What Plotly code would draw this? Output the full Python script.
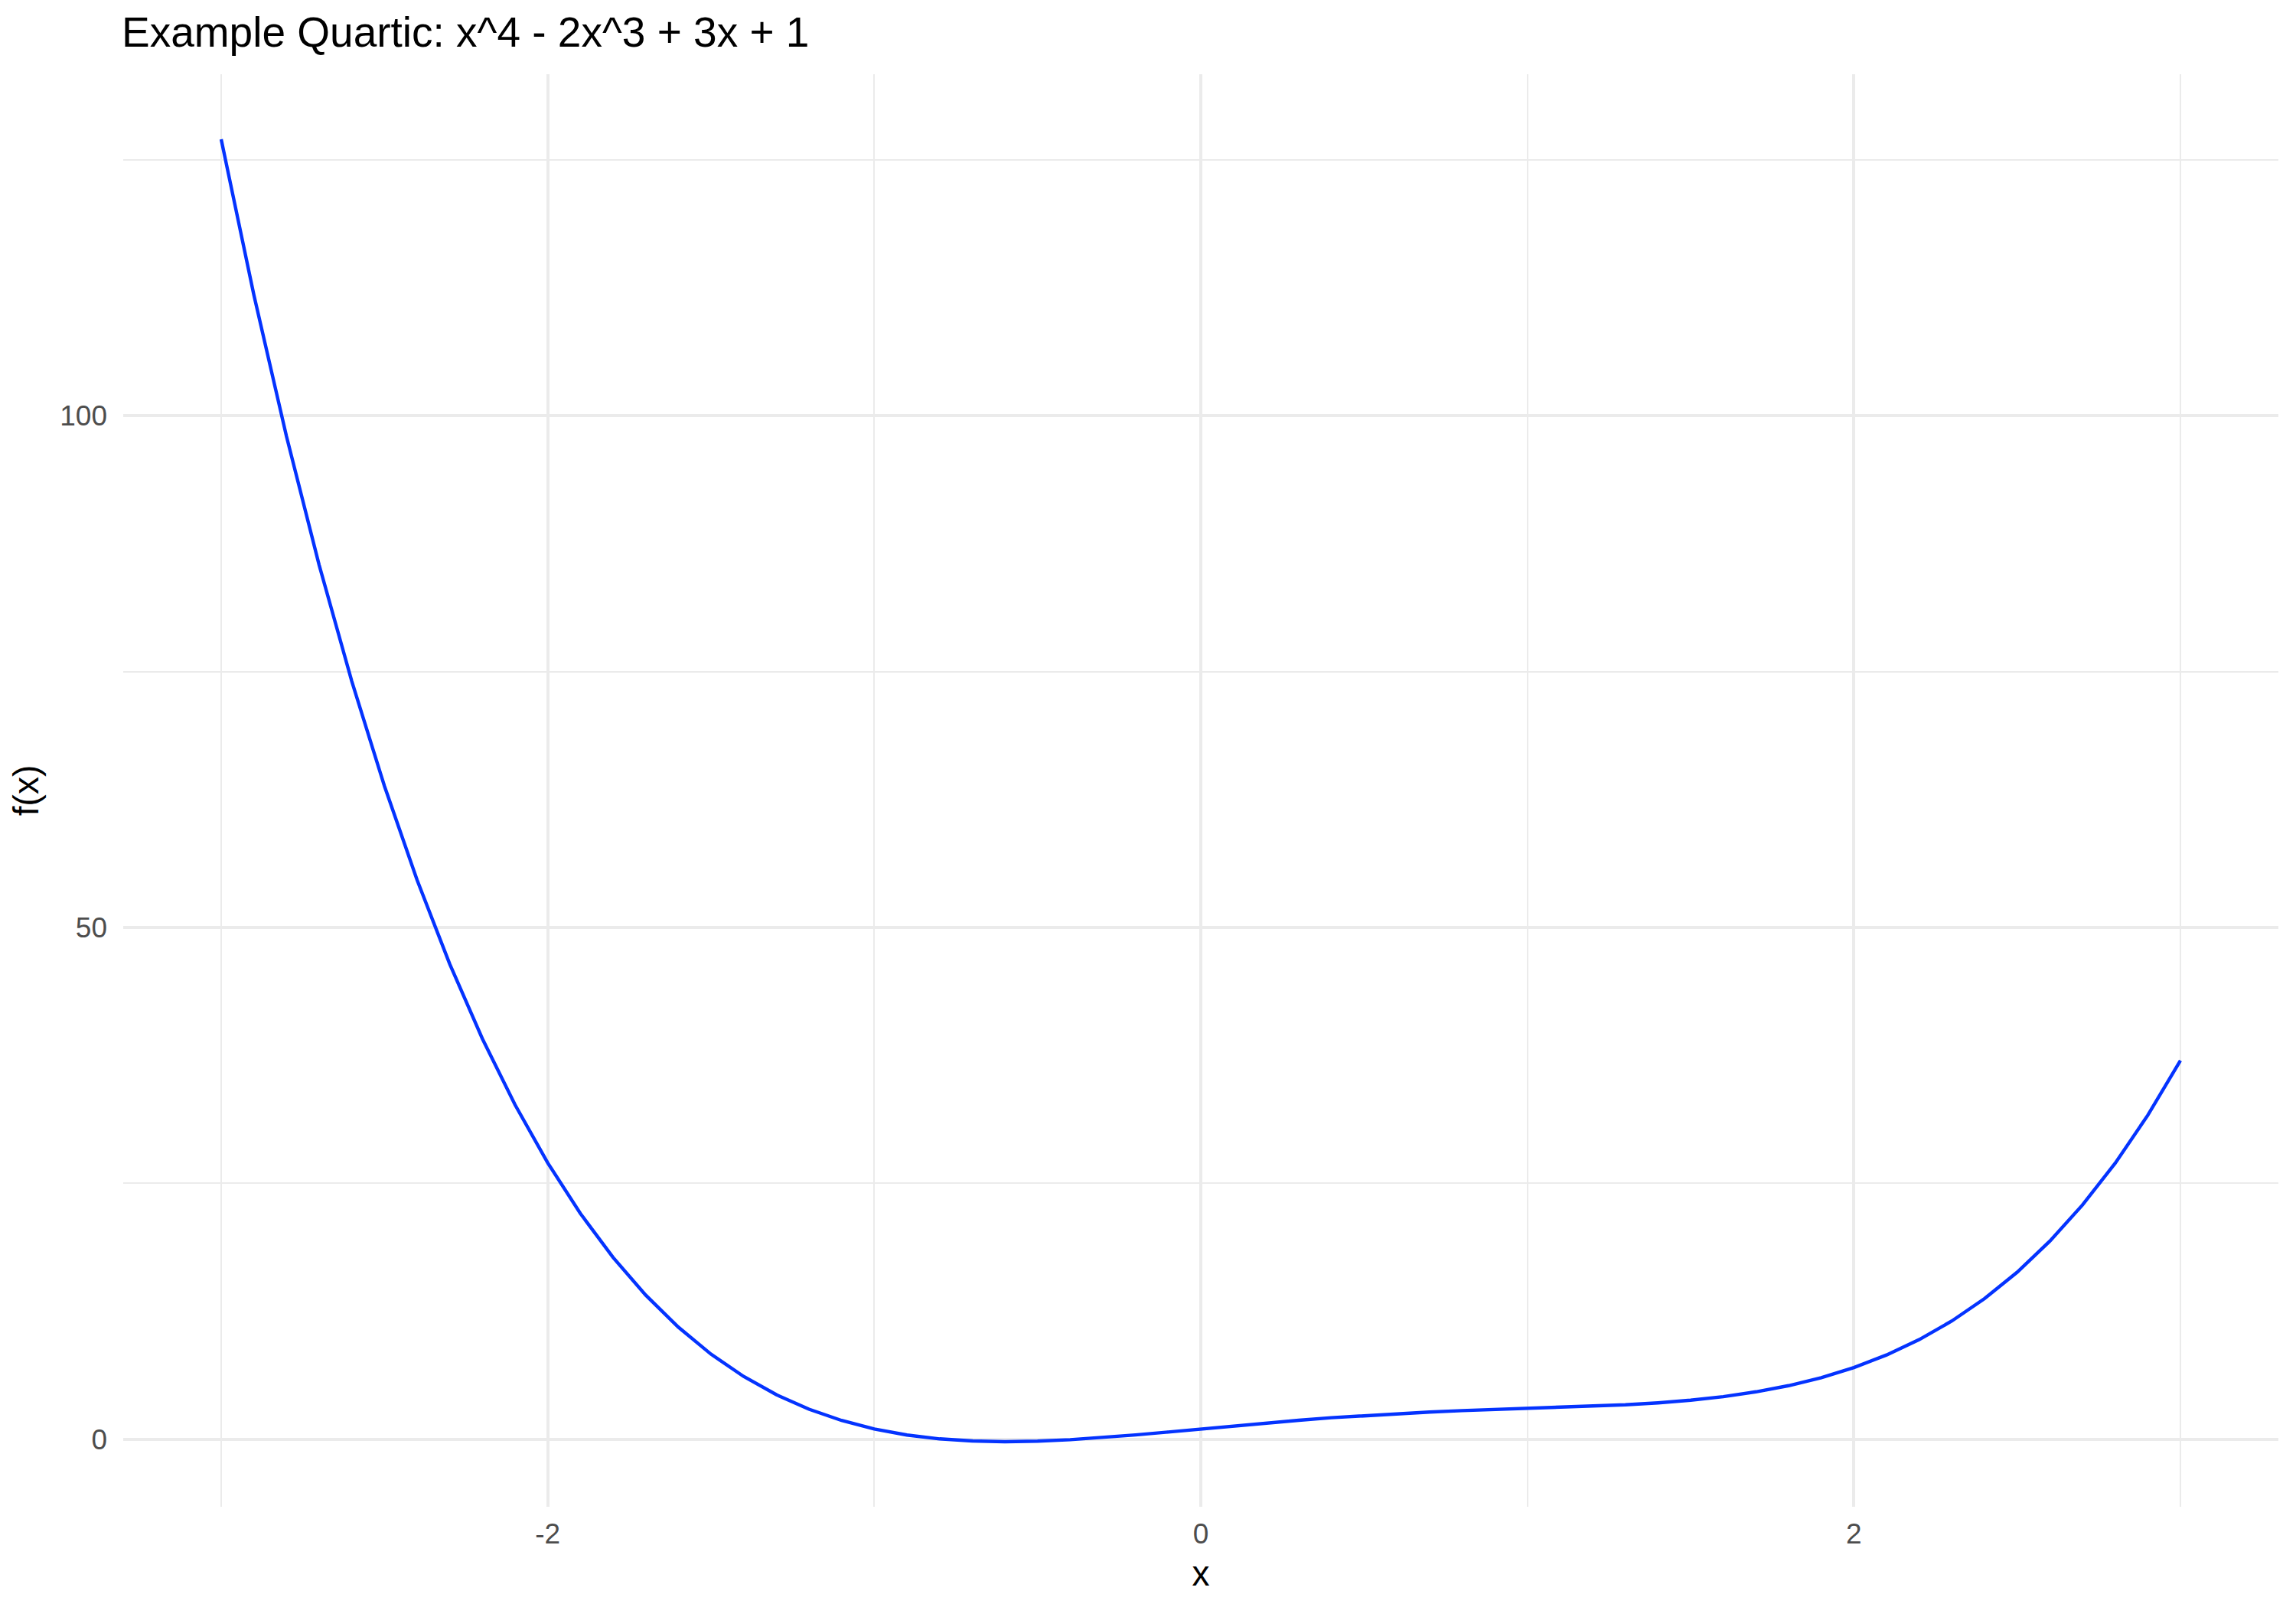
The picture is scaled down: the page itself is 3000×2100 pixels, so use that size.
import plotly.graph_objects as go

x_vals = [-3.0, -2.9, -2.8, -2.7, -2.6, -2.5, -2.4, -2.3, -2.2, -2.1,
          -2.0, -1.9, -1.8, -1.7, -1.6, -1.5, -1.4, -1.3, -1.2, -1.1,
          -1.0, -0.9, -0.8, -0.7, -0.6, -0.5, -0.4, -0.3, -0.2, -0.1,
          0.0, 0.1, 0.2, 0.3, 0.4, 0.5, 0.6, 0.7, 0.8, 0.9,
          1.0, 1.1, 1.2, 1.3, 1.4, 1.5, 1.6, 1.7, 1.8, 1.9,
          2.0, 2.1, 2.2, 2.3, 2.4, 2.5, 2.6, 2.7, 2.8, 2.9, 3.0]
y_vals = [127.0, 111.81, 97.97, 85.41, 74.05, 63.81, 54.63, 46.42, 39.12, 32.67,
          27.0, 22.05, 17.76, 14.08, 10.95, 8.31, 6.13, 4.35, 2.93, 1.83,
          1.0, 0.41, 0.03, -0.17, -0.24, -0.19, -0.05, 0.16, 0.42, 0.70,
          1.0, 1.30, 1.59, 1.85, 2.10, 2.31, 2.50, 2.65, 2.79, 2.90,
          3.0, 3.10, 3.22, 3.36, 3.55, 3.81, 4.16, 4.63, 5.23, 6.01,
          7.0, 8.23, 9.73, 11.55, 13.73, 16.31, 19.35, 22.88, 26.96, 31.65, 37.0]

x_ticks = [-2, 0, 2]
y_ticks = [0, 50, 100]
title_text = "Example Quartic: x^4 - 2x^3 + 3x + 1"

FONT = "Liberation Sans, Arial, Helvetica, sans-serif"
GRID = "#EBEBEB"

fig = go.Figure()
fig.add_trace(go.Scatter(x=x_vals, y=y_vals, mode="lines",
                         line=dict(color="#0433FF", width=4.4),
                         showlegend=False))

fig.update_layout(
    width=3000, height=2100,
    paper_bgcolor="white", plot_bgcolor="white",
    margin=dict(l=151, r=31, t=89, b=139),
    font=dict(family=FONT),
    title=dict(text=title_text, x=151/3000, xref="container", xanchor="left",
               y=1 - 34/2100, yref="container", yanchor="middle",
               font=dict(size=55, color="black", family=FONT)),
)
fig.update_xaxes(
    range=[-3.3, 3.3], tickvals=x_ticks, ticktext=[str(v) for v in x_ticks],
    showgrid=True, gridcolor=GRID, gridwidth=4.4, zeroline=False,
    showline=False, ticks="", ticklabelstandoff=10,
    tickfont=dict(size=37, color="#4D4D4D", family=FONT),
    minor=dict(dtick=1, tick0=-3, showgrid=True, gridcolor=GRID, gridwidth=2.2),
    title=dict(text="x", font=dict(size=46, color="black", family=FONT), standoff=15),
)
fig.update_yaxes(
    range=[-6.6, 133.36], tickvals=y_ticks, ticktext=[str(v) for v in y_ticks],
    showgrid=True, gridcolor=GRID, gridwidth=4.4, zeroline=False,
    showline=False, ticks="", ticklabelstandoff=20,
    tickfont=dict(size=37, color="#4D4D4D", family=FONT),
    minor=dict(dtick=25, tick0=0, showgrid=True, gridcolor=GRID, gridwidth=2.2),
    title=dict(text="f(x)", font=dict(size=46, color="black", family=FONT), standoff=26),
)

fig.write_html("out.html")
